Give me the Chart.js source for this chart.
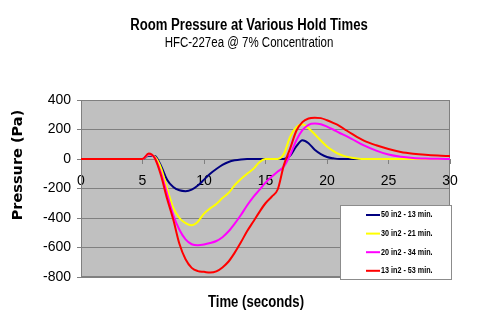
<!DOCTYPE html>
<html>
<head>
<meta charset="utf-8">
<script src="https://cdn.jsdelivr.net/npm/chart.js@4.4.1/dist/chart.umd.min.js"></script>
<style>
  html, body { margin: 0; padding: 0; background: #fff; }
</style>
</head>
<body>
<canvas id="pressureChart" width="499" height="329"></canvas>
<script>
// time in seconds
const times = [0, 4.5, 5, 5.5, 6, 6.5, 7, 7.5, 8, 8.5, 9, 9.5, 10, 10.5, 11, 11.5, 12, 12.5, 13, 13.5,
  14, 14.5, 15, 15.5, 16, 16.5, 17, 17.5, 18, 18.5, 19, 19.5, 20, 20.5, 21, 21.5, 22,
  23, 24, 25, 26, 27, 28, 29, 30];

// pressure (Pa) for each vent size
const vent50 = [0, 0, 0, 22, 20, -45, -140, -190, -212, -218, -208, -180, -140, -100, -68, -40, -20, -9, -3, 0,
  0, 0, 0, 0, 0, 0, 22, 85, 127, 107, 62, 33, 14, 5, 0, 0, 0,
  0, 0, 0, 0, 0, 0, 0, 0];
const vent30 = [0, 0, 0, 28, 15, -60, -200, -330, -400, -435, -449, -425, -370, -335, -305, -265, -230, -177, -135, -100,
  -68, -22, 0, 0, 0, 35, 150, 215, 235, 208, 168, 125, 85, 55, 32, 18, 9,
  0, 0, 0, 0, 0, 0, 0, 0];
const vent20 = [0, 0, 0, 33, 8, -95, -235, -380, -480, -545, -578, -585, -580, -570, -556, -530, -490, -438, -380, -315,
  -258, -210, -160, -120, -85, -50, 27, 125, 195, 232, 240, 236, 220, 200, 178, 158, 137,
  92, 57, 30, 15, 7, 3, 1, 0];
const vent13 = [0, 0, 0, 37, 5, -110, -270, -410, -575, -680, -738, -760, -765, -770, -762, -735, -695, -635, -565, -490,
  -425, -360, -300, -256, -205, -40, 70, 190, 250, 275, 280, 277, 263, 245, 225, 198, 172,
  125, 93, 68, 48, 36, 28, 23, 20];

const seriesNames = ['50 in2 - 13 min.', '30 in2 - 21 min.', '20 in2 - 34 min.', '13 in2 - 53 min.'];
const seriesColors = ['#000080', '#ffff00', '#ff00ff', '#ff0000'];

const xTicks = [0, 5, 10, 15, 20, 25, 30];
const yTicks = [400, 200, 0, -200, -400, -600, -800];

const sans = "'Liberation Sans', Arial, sans-serif";

function toPoints(values) {
  return times.map((t, i) => ({ x: t, y: values[i] }));
}

// narrow-looking text: squeeze horizontally
function condensedText(ctx, text, x, y, font, squeeze) {
  ctx.save();
  ctx.font = font;
  ctx.textAlign = 'center';
  ctx.textBaseline = 'middle';
  ctx.fillStyle = '#000';
  ctx.translate(x, y);
  ctx.scale(squeeze, 1);
  ctx.fillText(text, 0, 0);
  ctx.restore();
}

const allSeries = [vent50, vent30, vent20, vent13];
const datasets = allSeries.map((vals, i) => ({
  label: seriesNames[i],
  data: toPoints(vals),
  borderColor: seriesColors[i],
  backgroundColor: seriesColors[i],
  borderWidth: 2,
  pointRadius: 0,
  cubicInterpolationMode: 'monotone',
  order: allSeries.length - i
}));

// grey plot area with a thin frame
const plotBg = {
  id: 'plotBg',
  beforeDraw(chart) {
    const { ctx, chartArea: a } = chart;
    ctx.save();
    ctx.fillStyle = '#c0c0c0';
    ctx.fillRect(a.left, a.top, a.right - a.left, a.bottom - a.top);
    ctx.strokeStyle = '#808080';
    ctx.lineWidth = 1;
    ctx.strokeRect(Math.round(a.left) + 0.5, Math.round(a.top) + 0.5,
      Math.round(a.right - a.left) - 1, Math.round(a.bottom - a.top) - 1);
    ctx.restore();
  }
};

// legend box inside the plot, bottom right
const boxLegend = {
  id: 'boxLegend',
  afterDraw(chart) {
    const ctx = chart.ctx;
    const bx = 340.5, by = 205.5, bw = 111, bh = 74;
    ctx.save();
    ctx.fillStyle = '#ffffff';
    ctx.fillRect(bx, by, bw, bh);
    ctx.strokeStyle = '#8c8c8c';
    ctx.lineWidth = 1;
    ctx.strokeRect(bx, by, bw, bh);
    chart.data.datasets.forEach((ds, i) => {
      const y = 215 + i * 18.6;
      ctx.strokeStyle = ds.borderColor;
      ctx.lineWidth = 2;
      ctx.beginPath();
      ctx.moveTo(366, y);
      ctx.lineTo(380, y);
      ctx.stroke();
      ctx.save();
      ctx.font = 'bold 9px ' + sans;
      ctx.textBaseline = 'middle';
      ctx.textAlign = 'left';
      ctx.fillStyle = '#000';
      ctx.translate(381, y);
      ctx.scale(0.8, 1);
      ctx.fillText(ds.label, 0, 0);
      ctx.restore();
    });
    ctx.restore();
  }
};

// titles and axis titles
const textLayer = {
  id: 'textLayer',
  afterDraw(chart) {
    const ctx = chart.ctx;
    condensedText(ctx, 'Room Pressure at Various Hold Times', 249, 25.5, 'bold 16px ' + sans, 0.82);
    condensedText(ctx, 'HFC-227ea @ 7% Concentration', 249, 43, '14px ' + sans, 0.82);
    condensedText(ctx, 'Time (seconds)', 256, 303, 'bold 16px ' + sans, 0.82);
    ctx.save();
    ctx.fillStyle = '#000';
    ctx.textAlign = 'center';
    ctx.textBaseline = 'middle';
    ctx.translate(18, 165);
    ctx.rotate(-Math.PI / 2);
    ctx.font = "bold 14.5px 'DejaVu Sans', Verdana, sans-serif";
    ctx.fillText('Pressure (Pa)', 0, 0);
    ctx.restore();
  }
};

const config = {
  type: 'line',
  data: { datasets: datasets },
  options: {
    responsive: false,
    animation: false,
    layout: { padding: { left: 0, right: 49, top: 100, bottom: 52 } },
    plugins: {
      legend: { display: false },
      tooltip: { enabled: false },
      title: { display: false }
    },
    scales: {
      x: {
        type: 'linear',
        min: 0,
        max: 30,
        position: { y: 0 },
        afterBuildTicks: s => { s.ticks = xTicks.map(v => ({ value: v })); },
        ticks: { color: '#000', font: { family: sans, size: 14 }, padding: 10, maxRotation: 0 },
        grid: { display: true, drawOnChartArea: false, tickLength: 4, tickColor: '#808080' },
        border: { display: true, color: '#808080', width: 1 }
      },
      y: {
        type: 'linear',
        min: -800,
        max: 400,
        afterBuildTicks: s => { s.ticks = yTicks.map(v => ({ value: v })); },
        afterFit: s => { s.width = 81; },
        ticks: { color: '#000', font: { family: sans, size: 14 }, padding: 6 },
        grid: { color: '#808080', lineWidth: 1, tickLength: 4, tickColor: '#808080' },
        border: { display: true, color: '#808080', width: 1 }
      }
    }
  },
  plugins: [plotBg, boxLegend, textLayer]
};

const pressureChart = new Chart(document.getElementById('pressureChart'), config);
</script>
</body>
</html>
